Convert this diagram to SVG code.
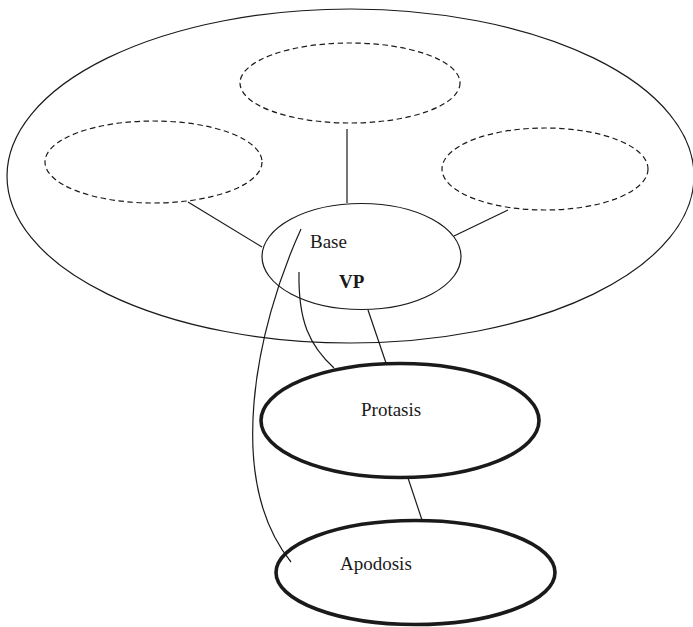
<svg xmlns="http://www.w3.org/2000/svg" width="693" height="627" viewBox="0 0 693 627">
<style>
.thin{fill:none;stroke:#1a1a1a;stroke-width:1.2}
.dash{fill:none;stroke:#1a1a1a;stroke-width:1.2;stroke-dasharray:5.5 3.5}
.thick{fill:none;stroke:#1a1a1a;stroke-width:3.6}
.lbl{font-family:"Liberation Serif","Times New Roman",serif;font-size:19px;fill:#1a1a1a}
.b{font-weight:bold}
</style>
<rect width="693" height="627" fill="#fff"/>
<g id="outer"><ellipse class="thin" cx="350.5" cy="176" rx="343.5" ry="167"/></g>
<g id="slot-top"><ellipse class="dash" cx="350" cy="83" rx="110" ry="40"/></g>
<g id="slot-left"><ellipse class="dash" cx="153.5" cy="162" rx="108.5" ry="41"/></g>
<g id="slot-right"><ellipse class="dash" cx="545" cy="169" rx="103" ry="41"/></g>
<g id="connectors">
<line class="thin" x1="347" y1="129" x2="347" y2="203"/>
<line class="thin" x1="188" y1="202" x2="262" y2="247"/>
<line class="thin" x1="508" y1="210" x2="454" y2="236"/>
<line class="thin" x1="368" y1="310" x2="386" y2="363"/>
<line class="thin" x1="408" y1="478" x2="422" y2="520"/>
<path class="thin" d="M299,272 C298,322 310,346 334,368"/>
<path class="thin" d="M301,229 C255,330 225,480 291,562"/>
</g>
<g id="base">
<ellipse class="thin" cx="361.5" cy="256.5" rx="99.5" ry="53"/>
<text class="lbl" x="310" y="248">Base</text>
<text class="lbl b" x="339" y="288">VP</text>
</g>
<g id="protasis">
<ellipse class="thick" cx="400" cy="420.5" rx="139" ry="57"/>
<text class="lbl" x="361" y="416">Protasis</text>
</g>
<g id="apodosis">
<ellipse class="thick" cx="415.5" cy="572.5" rx="139.5" ry="52"/>
<text class="lbl" x="340" y="570">Apodosis</text>
</g>
</svg>
